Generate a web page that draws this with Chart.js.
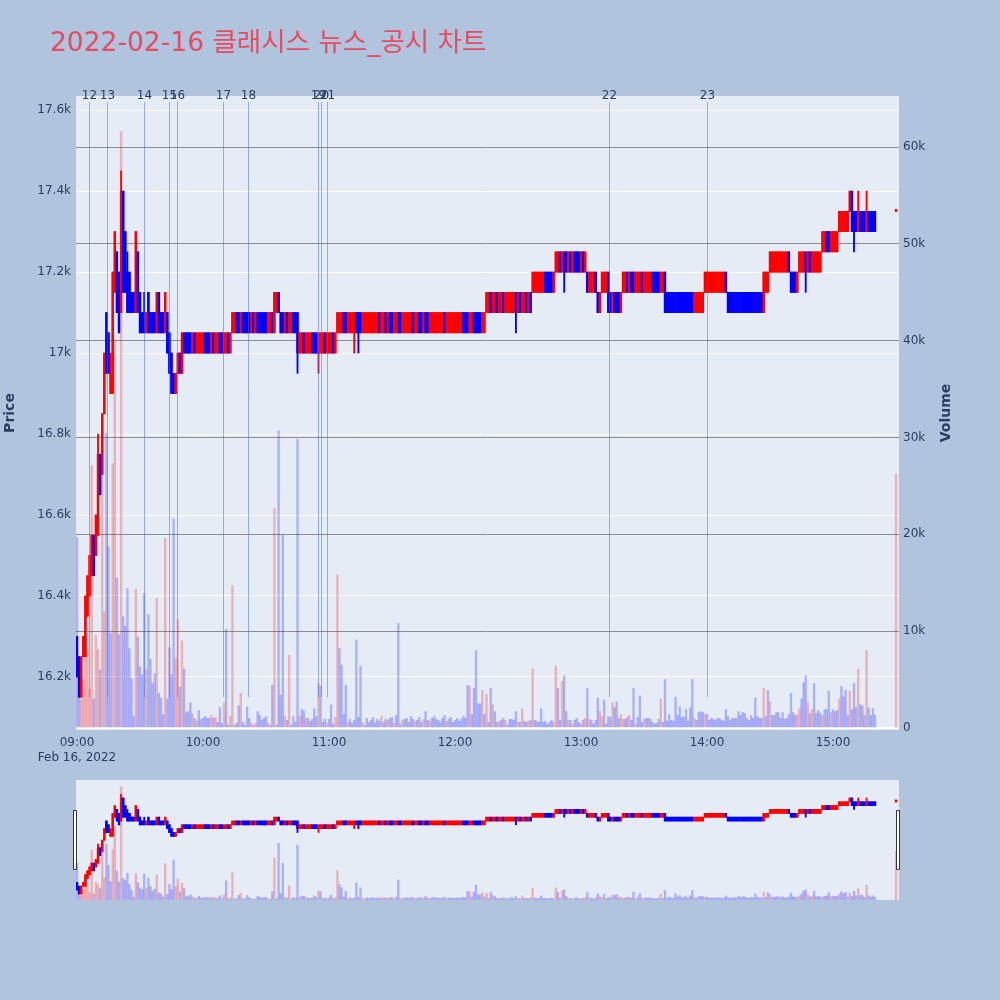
<!DOCTYPE html>
<html lang="ko">
<head>
<meta charset="utf-8">
<title>클래시스 뉴스_공시 차트</title>
<script src="https://cdn.jsdelivr.net/npm/chart.js@4.4.1/dist/chart.umd.min.js"></script>
<style>
  body { margin: 0; background: #b0c4de; }
  #page { position: relative; width: 1000px; height: 1000px; }
  canvas { position: absolute; left: 0; }
  #priceChart { top: 0; }
  #sliderChart { top: 770px; }
</style>
</head>
<body>
<div id="page">
  <canvas id="priceChart" width="1000" height="770"></canvas>
  <canvas id="sliderChart" width="1000" height="140"></canvas>
</div>
<script>
// ---- data (1-minute bars, 09:00 ~ 15:20, then 15:30 closing auction) ----
const chartTitle = '2022-02-16 클래시스 뉴스_공시 차트';
const yAxisTitle = 'Price';
const y2AxisTitle = 'Volume';
const sessionBars = 381;     // bars 0..380 are minutes after 09:00
const auctionMinute = 390;   // last bar sits at 15:30

const openPx = [
  16300,16250,16150,16250,16250,16350,16400,16450,16550,16500,
  16550,16750,16700,16850,17100,17050,16900,16900,17150,17250,
  17200,17100,17400,17300,17200,17200,17150,17150,17100,17250,
  17150,17100,17100,17050,17150,17100,17100,17100,17050,17150,
  17100,17100,17050,17100,17050,17000,16950,16900,16950,17000,
  16950,17050,17050,17050,17050,17000,17050,17000,17000,17000,
  17000,17050,17050,17050,17000,17050,17000,17000,17050,17050,
  17000,17000,17050,17000,17050,17050,17100,17100,17050,17100,
  17100,17100,17100,17050,17100,17050,17100,17100,17100,17100,
  17100,17050,17050,17100,17050,17100,17150,17100,17100,17050,
  17100,17050,17050,17100,17100,17100,17000,17000,17050,17000,
  17000,17000,17050,17050,17050,17000,17000,17000,17050,17000,
  17000,17000,17050,17000,17050,17050,17050,17100,17100,17050,
  17050,17050,17050,17100,17100,17100,17050,17050,17050,17050,
  17050,17050,17050,17050,17100,17050,17050,17100,17050,17100,
  17100,17050,17050,17100,17100,17050,17050,17050,17050,17050,
  17100,17050,17050,17100,17100,17050,17100,17100,17050,17050,
  17050,17050,17050,17050,17050,17100,17050,17050,17050,17050,
  17050,17050,17050,17050,17100,17100,17100,17050,17050,17100,
  17100,17100,17100,17050,17050,17100,17100,17150,17100,17100,
  17150,17100,17100,17150,17100,17100,17100,17100,17100,17150,
  17100,17150,17100,17100,17150,17100,17150,17150,17150,17150,
  17150,17150,17150,17200,17200,17200,17200,17150,17200,17200,
  17250,17200,17250,17250,17200,17250,17200,17250,17250,17250,
  17200,17250,17200,17200,17150,17150,17150,17200,17150,17100,
  17150,17150,17150,17200,17150,17100,17150,17150,17150,17100,
  17150,17150,17200,17150,17200,17200,17150,17150,17150,17200,
  17150,17150,17150,17150,17200,17200,17200,17200,17150,17150,
  17200,17150,17150,17150,17150,17150,17150,17150,17150,17150,
  17150,17150,17150,17150,17100,17100,17100,17100,17100,17150,
  17150,17150,17150,17150,17150,17150,17150,17150,17150,17200,
  17150,17150,17150,17150,17150,17150,17150,17150,17150,17150,
  17150,17150,17150,17150,17150,17150,17150,17100,17150,17150,
  17200,17200,17200,17200,17200,17200,17200,17200,17200,17250,
  17200,17200,17200,17150,17200,17200,17200,17250,17200,17250,
  17200,17200,17200,17200,17200,17250,17250,17300,17300,17250,
  17250,17250,17250,17300,17300,17300,17300,17300,17350,17400,
  17350,17350,17300,17350,17350,17350,17300,17350,17350,17350,
  17350,17350
];
const highPx = [
  16300,16250,16250,16300,16400,16450,16500,16550,16550,16600,
  16800,16750,16850,17000,17100,17050,17000,17200,17300,17250,
  17200,17450,17400,17300,17250,17200,17150,17150,17300,17250,
  17150,17100,17150,17100,17150,17100,17100,17100,17150,17150,
  17100,17100,17150,17100,17050,17000,16950,16950,17000,17000,
  17050,17050,17050,17050,17050,17050,17050,17050,17050,17050,
  17050,17050,17050,17050,17050,17050,17050,17050,17050,17050,
  17050,17050,17050,17050,17100,17100,17100,17100,17100,17100,
  17100,17100,17100,17100,17100,17100,17100,17100,17100,17100,
  17100,17100,17100,17100,17150,17150,17150,17100,17100,17100,
  17100,17100,17100,17100,17100,17100,17050,17050,17050,17050,
  17050,17050,17050,17050,17050,17050,17050,17050,17050,17050,
  17050,17050,17050,17050,17100,17100,17100,17100,17100,17100,
  17100,17100,17100,17100,17100,17100,17100,17100,17100,17100,
  17100,17100,17100,17100,17100,17100,17100,17100,17100,17100,
  17100,17100,17100,17100,17100,17100,17100,17100,17100,17100,
  17100,17100,17100,17100,17100,17100,17100,17100,17100,17100,
  17100,17100,17100,17100,17100,17100,17100,17100,17100,17100,
  17100,17100,17100,17100,17100,17100,17100,17100,17100,17100,
  17100,17100,17100,17100,17100,17150,17150,17150,17150,17150,
  17150,17150,17150,17150,17150,17150,17150,17150,17150,17150,
  17150,17150,17150,17150,17150,17150,17150,17200,17200,17200,
  17200,17200,17200,17200,17200,17200,17200,17200,17250,17250,
  17250,17250,17250,17250,17250,17250,17250,17250,17250,17250,
  17250,17250,17250,17200,17200,17200,17200,17200,17150,17150,
  17200,17200,17200,17200,17150,17150,17150,17150,17150,17150,
  17200,17200,17200,17200,17200,17200,17200,17200,17200,17200,
  17200,17200,17200,17200,17200,17200,17200,17200,17200,17200,
  17200,17150,17150,17150,17150,17150,17150,17150,17150,17150,
  17150,17150,17150,17150,17150,17150,17150,17150,17150,17200,
  17200,17200,17200,17200,17200,17200,17200,17200,17200,17200,
  17150,17150,17150,17150,17150,17150,17150,17150,17150,17150,
  17150,17150,17150,17150,17150,17150,17150,17200,17200,17200,
  17250,17250,17250,17250,17250,17250,17250,17250,17250,17250,
  17200,17200,17200,17200,17250,17250,17250,17250,17250,17250,
  17250,17250,17250,17250,17250,17300,17300,17300,17300,17300,
  17300,17300,17300,17350,17350,17350,17350,17350,17400,17400,
  17350,17350,17400,17350,17350,17350,17400,17350,17350,17350,
  17350,17350
];
const lowPx = [
  16200,16150,16150,16250,16250,16350,16400,16450,16450,16500,
  16550,16650,16700,16850,16950,16950,16900,16900,17150,17100,
  17050,17100,17150,17150,17100,17100,17100,17100,17100,17100,
  17050,17050,17050,17050,17050,17050,17050,17050,17050,17050,
  17050,17050,17050,17000,16950,16900,16900,16900,16950,16950,
  16950,17000,17000,17000,17000,17000,17000,17000,17000,17000,
  17000,17000,17000,17000,17000,17000,17000,17000,17000,17000,
  17000,17000,17000,17000,17050,17050,17050,17050,17050,17050,
  17050,17050,17050,17050,17050,17050,17050,17050,17050,17050,
  17050,17050,17050,17050,17050,17100,17100,17050,17050,17050,
  17050,17050,17050,17050,17050,16950,17000,17000,17000,17000,
  17000,17000,17000,17000,17000,16950,17000,17000,17000,17000,
  17000,17000,17000,17000,17050,17050,17050,17050,17050,17050,
  17050,17050,17000,17050,17000,17050,17050,17050,17050,17050,
  17050,17050,17050,17050,17050,17050,17050,17050,17050,17050,
  17050,17050,17050,17050,17050,17050,17050,17050,17050,17050,
  17050,17050,17050,17050,17050,17050,17050,17050,17050,17050,
  17050,17050,17050,17050,17050,17050,17050,17050,17050,17050,
  17050,17050,17050,17050,17050,17050,17050,17050,17050,17050,
  17050,17050,17050,17050,17050,17100,17100,17100,17100,17100,
  17100,17100,17100,17100,17100,17100,17100,17100,17100,17050,
  17100,17100,17100,17100,17100,17100,17100,17150,17150,17150,
  17150,17150,17150,17150,17150,17150,17150,17150,17200,17200,
  17200,17200,17150,17200,17200,17200,17200,17200,17200,17200,
  17200,17200,17200,17150,17150,17150,17150,17150,17100,17100,
  17150,17150,17150,17100,17100,17100,17100,17100,17100,17100,
  17150,17150,17150,17150,17150,17150,17150,17150,17150,17150,
  17150,17150,17150,17150,17150,17150,17150,17150,17150,17150,
  17100,17100,17100,17100,17100,17100,17100,17100,17100,17100,
  17100,17100,17100,17100,17100,17100,17100,17100,17100,17150,
  17150,17150,17150,17150,17150,17150,17150,17150,17150,17150,
  17100,17100,17100,17100,17100,17100,17100,17100,17100,17100,
  17100,17100,17100,17100,17100,17100,17100,17100,17150,17150,
  17200,17200,17200,17200,17200,17200,17200,17200,17200,17200,
  17150,17150,17150,17150,17200,17200,17200,17150,17200,17200,
  17200,17200,17200,17200,17200,17250,17250,17250,17250,17250,
  17250,17250,17250,17300,17300,17300,17300,17300,17350,17300,
  17250,17300,17300,17300,17300,17300,17300,17300,17300,17300,
  17300,17350
];
const closePx = [
  16200,16150,16250,16300,16400,16450,16500,16550,16450,16600,
  16750,16650,16850,17000,16950,16950,16950,17200,17300,17100,
  17050,17400,17150,17150,17100,17100,17100,17100,17300,17100,
  17050,17050,17050,17100,17050,17050,17050,17050,17150,17050,
  17050,17050,17150,17000,16950,16900,16900,16950,17000,16950,
  17050,17000,17000,17000,17000,17050,17000,17050,17050,17050,
  17050,17000,17000,17000,17050,17000,17050,17050,17000,17000,
  17050,17050,17000,17050,17100,17100,17050,17050,17100,17050,
  17050,17050,17050,17100,17050,17100,17050,17050,17050,17050,
  17050,17100,17100,17050,17150,17150,17100,17050,17050,17100,
  17050,17100,17100,17050,17050,17000,17050,17050,17000,17050,
  17050,17050,17000,17000,17000,17050,17050,17050,17000,17050,
  17050,17050,17000,17050,17100,17100,17100,17050,17050,17100,
  17100,17100,17100,17050,17050,17050,17100,17100,17100,17100,
  17100,17100,17100,17100,17050,17100,17100,17050,17100,17050,
  17050,17100,17100,17050,17050,17100,17100,17100,17100,17100,
  17050,17100,17100,17050,17050,17100,17050,17050,17100,17100,
  17100,17100,17100,17100,17100,17050,17100,17100,17100,17100,
  17100,17100,17100,17100,17050,17050,17050,17100,17100,17050,
  17050,17050,17050,17100,17100,17150,17150,17100,17150,17150,
  17100,17150,17150,17100,17150,17150,17150,17150,17150,17100,
  17150,17100,17150,17150,17100,17150,17100,17200,17200,17200,
  17200,17200,17200,17150,17150,17150,17150,17200,17250,17250,
  17200,17250,17200,17200,17250,17200,17250,17200,17200,17200,
  17250,17200,17250,17150,17200,17200,17200,17150,17100,17150,
  17200,17200,17200,17100,17100,17150,17100,17100,17100,17150,
  17200,17200,17150,17200,17150,17150,17200,17200,17200,17150,
  17200,17200,17200,17200,17150,17150,17150,17150,17200,17200,
  17100,17100,17100,17100,17100,17100,17100,17100,17100,17100,
  17100,17100,17100,17100,17150,17150,17150,17150,17150,17200,
  17200,17200,17200,17200,17200,17200,17200,17200,17200,17150,
  17100,17100,17100,17100,17100,17100,17100,17100,17100,17100,
  17100,17100,17100,17100,17100,17100,17100,17200,17200,17200,
  17250,17250,17250,17250,17250,17250,17250,17250,17250,17200,
  17150,17150,17150,17200,17250,17250,17250,17200,17250,17200,
  17250,17250,17250,17250,17250,17300,17300,17250,17250,17300,
  17300,17300,17300,17350,17350,17350,17350,17350,17400,17300,
  17300,17300,17350,17300,17300,17300,17350,17300,17300,17300,
  17300,17350
];
const volume = [
  19700,3200,2900,5000,9600,8000,4000,27100,3000,9600,
  8100,6000,26100,12000,30400,18700,9800,27300,40000,15500,
  9600,61600,11500,10500,14400,8200,5100,1200,14300,9400,
  6300,5500,13900,6100,11700,7100,4600,5600,13400,3600,
  3100,1400,19600,3000,8300,5500,21600,7200,11200,4200,
  9000,6100,1600,1700,2600,1500,1000,700,1800,900,
  1000,1200,1000,1000,1300,1000,1100,600,2100,500,
  2600,10200,300,1200,14700,300,500,2300,3600,600,
  300,2200,1000,500,300,500,1700,1300,800,1000,
  1200,500,300,4400,22700,300,30700,3400,19900,1200,
  800,7500,300,1200,600,29800,1200,1900,1800,1000,
  1000,700,900,2000,1200,4600,4300,600,900,500,
  900,2400,400,1100,15800,8200,6500,1400,4400,600,
  900,500,800,9100,1100,6400,600,300,1000,600,
  800,1100,500,900,700,1200,600,900,800,1000,
  1100,500,1300,10800,400,800,900,1000,600,1200,
  900,700,800,1100,600,900,1700,800,700,1000,
  1200,900,800,600,1000,1300,700,900,1100,600,
  800,1000,700,900,1200,1000,4400,4300,1400,4100,
  8000,2500,2500,3900,1400,3500,600,4100,2400,1700,
  600,700,800,1000,800,300,900,900,800,1700,
  600,600,2000,700,600,700,800,6100,800,700,
  600,2000,600,700,400,600,800,600,6400,4100,
  800,4800,5400,1700,800,800,400,800,1000,600,
  400,800,1000,4100,900,800,400,800,3100,1700,
  1200,2900,400,1200,1100,2600,2100,2700,1000,1400,
  900,900,1100,1300,800,4100,400,1100,3300,600,
  900,1000,1000,900,600,400,500,900,3000,600,
  5000,700,1400,800,700,3200,1300,2200,1100,1100,
  1900,700,2100,5000,1000,800,1600,1700,1600,1400,
  1400,800,1000,900,800,1000,1000,800,700,1900,
  1200,800,1000,1000,1000,1700,1300,1600,1500,1000,
  800,1300,1000,3100,1200,1000,1000,4100,1200,3900,
  2700,1300,1300,1600,1600,1000,1600,900,1000,1400,
  3600,1600,1300,1400,2000,3000,4700,5400,2600,1500,
  1900,4600,1500,1800,1500,1300,1900,1900,3800,1600,
  1900,1700,1800,3000,4300,3200,3900,1300,3800,1900,
  4600,2100,6100,2400,2300,1300,8000,2100,1300,2000,
  1300,26200
];

const hourTicks = [0, 60, 120, 180, 240, 300, 360];
const hourLabels = [['09:00', 'Feb 16, 2022'], '10:00', '11:00', '12:00', '13:00', '14:00', '15:00'];
const priceTicks = [16200, 16400, 16600, 16800, 17000, 17200, 17400, 17600];
const volumeTicks = [0, 10000, 20000, 30000, 40000, 50000, 60000];

// news / disclosure markers (minutes after 09:00)
const newsLabels = ['12', '13', '14', '15', '16', '17', '18', '19', '20', '21', '22', '23'];
const newsMinutes = [5.9, 14.1, 32.0, 43.9, 47.8, 69.7, 81.6, 114.9, 116.0, 118.9, 253.3, 300.0];

// ---- styling ----
const UP = '#ff0000', DOWN = '#0000ff';
const UP_VOL = 'rgba(255,0,0,0.25)', DOWN_VOL = 'rgba(0,0,255,0.25)';
const TEXT = '#2a3f5f';
const FONT = '"DejaVu Sans", Verdana, sans-serif';
const X_RANGE = [-0.48, 391.43];
const PRICE_RANGE = [16069, 17635];
const VOLUME_RANGE = [-206, 65267];

const minuteOf = i => (i < sessionBars ? i : auctionMinute);
// plotly-style direction: close vs open, ties decided by previous close
const candleUp = closePx.map((c, i) => c > openPx[i] || (c === openPx[i] && i > 0 && c > closePx[i - 1]));
const volumeUp = closePx.map((c, i) => i > 0 && c > closePx[i - 1]);

function makeDatasets() {
    return [
        {
            label: 'volume', yAxisID: 'y2', order: 3, barThickness: 1.7,
            data: volume.map((v, i) => ({ x: minuteOf(i), y: v })),
            backgroundColor: volumeUp.map(u => u ? UP_VOL : DOWN_VOL)
        },
        {
            label: 'wick', yAxisID: 'y', order: 2, barThickness: 1.2,
            data: lowPx.map((l, i) => ({ x: minuteOf(i), y: [l, highPx[i]] })),
            backgroundColor: candleUp.map(u => u ? UP : DOWN)
        },
        {
            label: 'body', yAxisID: 'y', order: 1, barThickness: 1.8, minBarLength: 2,
            data: openPx.map((o, i) => ({ x: minuteOf(i), y: [o, closePx[i]] })),
            backgroundColor: candleUp.map(u => u ? UP : DOWN)
        }
    ];
}

// ---- plugins ----
const plotBackground = {
    id: 'plotBackground',
    beforeDraw(chart) {
        const { ctx, chartArea: a } = chart;
        ctx.save();
        ctx.fillStyle = '#e5ecf6';
        ctx.fillRect(a.left, a.top, a.right - a.left, a.bottom - a.top);
        ctx.restore();
    }
};

const newsMarkers = {
    id: 'newsMarkers',
    afterDatasetsDraw(chart) {
        const { ctx, chartArea: a, scales: { x, y } } = chart;
        const yBottom = y.getPixelForValue(Math.min(...lowPx));
        ctx.save();
        ctx.strokeStyle = 'rgba(65,105,225,0.5)';
        ctx.lineWidth = 1;
        ctx.fillStyle = TEXT;
        ctx.font = '12px ' + FONT;
        ctx.textAlign = 'center';
        ctx.textBaseline = 'middle';
        newsMinutes.forEach((m, i) => {
            const px = Math.round(x.getPixelForValue(m)) + 0.5;
            ctx.beginPath();
            ctx.moveTo(px, a.top + 6);
            ctx.lineTo(px, yBottom);
            ctx.stroke();
            ctx.fillText(newsLabels[i], px, a.top);
        });
        ctx.restore();
    }
};

const chartLabels = {
    id: 'chartLabels',
    afterDraw(chart) {
        const { ctx, chartArea: a } = chart;
        ctx.save();
        ctx.fillStyle = '#e84a5f';
        ctx.font = '26.5px "DejaVu Sans", "Noto Sans CJK KR", sans-serif';
        ctx.textAlign = 'left';
        ctx.textBaseline = 'alphabetic';
        ctx.fillText(chartTitle, 50, 51);

        ctx.fillStyle = TEXT;
        ctx.font = 'bold 14px ' + FONT;
        ctx.textAlign = 'center';
        ctx.textBaseline = 'middle';
        const midY = (a.top + a.bottom) / 2;
        [[yAxisTitle, 10], [y2AxisTitle, 946]].forEach(([t, x]) => {
            ctx.save();
            ctx.translate(x, midY);
            ctx.rotate(-Math.PI / 2);
            ctx.fillText(t, 0, 0);
            ctx.restore();
        });
        ctx.restore();
    }
};

const sliderHandles = {
    id: 'sliderHandles',
    afterDraw(chart) {
        const { ctx, chartArea: a } = chart;
        ctx.save();
        ctx.fillStyle = '#ffffff';
        ctx.strokeStyle = '#333333';
        ctx.lineWidth = 1;
        [a.left - 3, a.right - 3].forEach(x0 => {
            ctx.beginPath();
            ctx.rect(Math.round(x0) + 0.5, a.top + 30.5, 3, 59);
            ctx.fill();
            ctx.stroke();
        });
        ctx.restore();
    }
};

const tickFont = { family: FONT, size: 12 };

// ---- main price / volume chart ----
new Chart(document.getElementById('priceChart'), {
    type: 'bar',
    data: { datasets: makeDatasets() },
    options: {
        responsive: false,
        animation: false,
        events: [],
        layout: { padding: { top: 96, left: 0, right: 0, bottom: 0 } },
        datasets: { bar: { grouped: false, borderWidth: 0 } },
        plugins: { legend: { display: false }, tooltip: { enabled: false } },
        scales: {
            x: {
                type: 'linear', min: X_RANGE[0], max: X_RANGE[1], offset: false,
                grid: { display: false, drawTicks: false },
                border: { display: false },
                afterBuildTicks: s => { s.ticks = hourTicks.map(v => ({ value: v })); },
                afterFit: s => { s.height = 40; },
                ticks: {
                    autoSkip: false, maxRotation: 0, padding: 5, color: TEXT,
                    font: { family: FONT, size: 12, lineHeight: 1.25 },
                    callback: v => hourLabels[hourTicks.indexOf(v)]
                }
            },
            y: {
                position: 'left', min: PRICE_RANGE[0], max: PRICE_RANGE[1],
                grid: { color: '#ffffff', lineWidth: 1, drawTicks: false },
                border: { display: false },
                afterBuildTicks: s => { s.ticks = priceTicks.map(v => ({ value: v })); },
                afterFit: s => { s.width = 76; },
                ticks: { padding: 5, color: TEXT, font: tickFont, callback: v => v / 1000 + 'k' }
            },
            y2: {
                position: 'right', min: VOLUME_RANGE[0], max: VOLUME_RANGE[1],
                grid: {
                    color: c => c.tick.value === 0 ? '#ffffff' : '#8c8c8c',
                    lineWidth: c => c.tick.value === 0 ? 2 : 1,
                    drawTicks: false
                },
                border: { display: false },
                afterBuildTicks: s => { s.ticks = volumeTicks.map(v => ({ value: v })); },
                afterFit: s => { s.width = 101; },
                ticks: { padding: 4, color: TEXT, font: tickFont, callback: v => v === 0 ? '0' : v / 1000 + 'k' }
            }
        }
    },
    plugins: [plotBackground, newsMarkers, chartLabels]
});

// ---- range slider (miniature of the whole session) ----
new Chart(document.getElementById('sliderChart'), {
    type: 'bar',
    data: { datasets: makeDatasets() },
    options: {
        responsive: false,
        animation: false,
        events: [],
        layout: { padding: { left: 76, right: 101, top: 10, bottom: 10 } },
        datasets: { bar: { grouped: false, borderWidth: 0 } },
        plugins: { legend: { display: false }, tooltip: { enabled: false } },
        scales: {
            x: { type: 'linear', display: false, offset: false, min: X_RANGE[0], max: X_RANGE[1] },
            y: { display: false, min: PRICE_RANGE[0], max: PRICE_RANGE[1] },
            y2: { display: false, position: 'right', min: VOLUME_RANGE[0], max: VOLUME_RANGE[1] }
        }
    },
    plugins: [plotBackground, sliderHandles]
});
</script>
</body>
</html>
